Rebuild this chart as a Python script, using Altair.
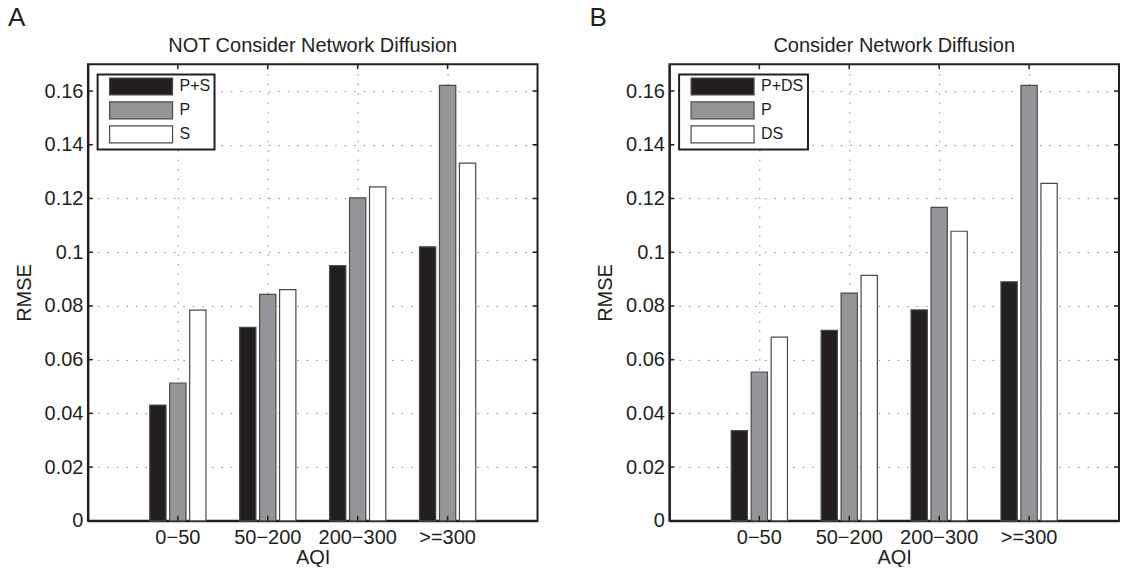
import altair as alt
import pandas as pd

# ---- data ----
categories = ["0−50", "50−200", "200−300", ">=300"]

series_a = ["P+S", "P", "S"]
a_ps = [0.0431, 0.0720, 0.0950, 0.1020]
a_p = [0.0513, 0.0843, 0.1202, 0.1621]
a_s = [0.0784, 0.0861, 0.1243, 0.1332]

series_b = ["P+DS", "P", "DS"]
b_pds = [0.0336, 0.0709, 0.0785, 0.0890]
b_p = [0.0554, 0.0848, 0.1167, 0.1621]
b_ds = [0.0684, 0.0914, 0.1078, 0.1256]

y_ticks = [0, 0.02, 0.04, 0.06, 0.08, 0.1, 0.12, 0.14, 0.16]
bar_colors = ["#231f20", "#939598", "#ffffff"]

FONT = "Liberation Sans"
INK = "#231f20"
W, H = 450, 457
SWATCH = "M0,-1.7H12.6V1.7H0Z"


def panel(series, values, title):
    rows = []
    for s, vals in zip(series, values):
        for c, v in zip(categories, vals):
            rows.append({"AQI": c, "series": s, "RMSE": v})
    df = pd.DataFrame(rows)
    tick_df = pd.DataFrame({"RMSE": y_ticks})
    cat_df = pd.DataFrame({"AQI": categories})

    xscale = alt.Scale(domain=categories, paddingInner=0, paddingOuter=0.5)
    yscale = alt.Scale(domain=[0, 0.17], nice=False, zero=True)
    xaxis = alt.Axis(title="AQI", labelAngle=0, grid=True,
                     labelPadding=7, titlePadding=0)
    yaxis = alt.Axis(title="RMSE", values=y_ticks, format="~g",
                     labelPadding=5, titlePadding=10)

    bars = alt.Chart(df).mark_bar(stroke="#4a4a4a", strokeWidth=1.2).encode(
        x=alt.X("AQI:N", sort=categories, scale=xscale, axis=xaxis),
        xOffset=alt.XOffset("series:N", sort=series,
                            scale=alt.Scale(domain=series, paddingInner=0.185,
                                            paddingOuter=0.8425)),
        y=alt.Y("RMSE:Q", scale=yscale, axis=yaxis),
        color=alt.Color("series:N", sort=series,
                        scale=alt.Scale(domain=series, range=bar_colors),
                        legend=alt.Legend(title=None, orient="none",
                                          legendX=9.7, legendY=10.3,
                                          symbolType=SWATCH, symbolSize=100,
                                          symbolStrokeColor="#4a4a4a",
                                          symbolStrokeWidth=1.2,
                                          symbolOpacity=1,
                                          labelFont=FONT, labelFontSize=16,
                                          labelColor=INK, labelOffset=62,
                                          padding=4, rowPadding=2,
                                          strokeColor=INK, fillColor="white")),
    )

    ytk = alt.Chart(tick_df).mark_rule(color=INK, strokeWidth=1.5)
    left_t = ytk.encode(y=alt.Y("RMSE:Q", scale=yscale, axis=yaxis),
                        x=alt.value(0), x2=alt.value(5))
    right_t = ytk.encode(y=alt.Y("RMSE:Q", scale=yscale, axis=yaxis),
                         x=alt.value(W - 5), x2=alt.value(W))
    xtk = alt.Chart(cat_df).mark_rule(color=INK, strokeWidth=1.5)
    top_t = xtk.encode(x=alt.X("AQI:N", sort=categories, scale=xscale, axis=xaxis),
                       y=alt.value(0), y2=alt.value(5))
    bot_t = xtk.encode(x=alt.X("AQI:N", sort=categories, scale=xscale, axis=xaxis),
                       y=alt.value(H - 5), y2=alt.value(H))

    return alt.layer(bars, left_t, right_t, top_t, bot_t).properties(
        width=W, height=H,
        title=alt.TitleParams(title, font=FONT, fontSize=20, fontWeight="normal",
                              color=INK, offset=7),
    )


left = alt.vconcat(
    panel(series_a, [a_ps, a_p, a_s], "NOT Consider Network Diffusion"),
    title=alt.TitleParams("A", anchor="start", frame="bounds", font=FONT,
                          fontSize=26, fontWeight="normal", color=INK,
                          offset=4, dx=-5),
)
right = alt.vconcat(
    panel(series_b, [b_pds, b_p, b_ds], "Consider Network Diffusion"),
    title=alt.TitleParams("B", anchor="start", frame="bounds", font=FONT,
                          fontSize=26, fontWeight="normal", color=INK,
                          offset=4, dx=-5),
)

chart = alt.hconcat(left, right, spacing=50).resolve_scale(
    color="independent", xOffset="independent"
).properties(padding={"left": 0, "top": -3, "right": 0, "bottom": -2}).configure_view(
    stroke=INK, strokeWidth=2
).configure_axis(
    domainColor=INK, domainWidth=2, gridColor="#8a8a8a", gridDash=[1.5, 8],
    gridWidth=1, tickSize=0, labelFont=FONT, labelFontSize=20, labelColor=INK,
    titleFont=FONT, titleFontSize=20, titleFontWeight="normal", titleColor=INK,
).configure_legend(strokeWidth=2)

chart.save("out.html", embed_options={"renderer": "svg", "actions": False})
